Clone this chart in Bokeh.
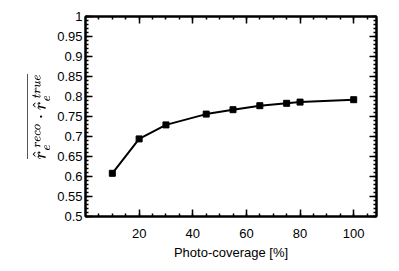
from bokeh.plotting import figure
from bokeh.models import Range1d, LinearAxis, FixedTicker, CustomJSTickFormatter
from bokeh.embed import file_html
from bokeh.resources import INLINE

coverage = [10, 20, 30, 45, 55, 65, 75, 80, 100]
dot_product = [0.608, 0.694, 0.729, 0.756, 0.767, 0.777, 0.783, 0.786, 0.792]

y_ticks = [0.5, 0.55, 0.6, 0.65, 0.7, 0.75, 0.8, 0.85, 0.9, 0.95, 1.0]
x_ticks = [20, 40, 60, 80, 100]

FONT = "Liberation Sans"

p = figure(frame_width=291, frame_height=200, output_backend="svg",
           toolbar_location=None, x_range=Range1d(0, 108.5), y_range=Range1d(0.5, 1.0),
           min_border_left=85, min_border_right=7, min_border_top=16, min_border_bottom=45)
p.xgrid.visible = False
p.ygrid.visible = False
p.outline_line_color = "black"
p.outline_line_width = 2
p.background_fill_color = "white"
p.border_fill_color = "white"

xminor = [v for v in range(5, 110, 5)]
yminor = [round(0.5 + 0.01 * i, 2) for i in range(51)]

def style(ax, labels=True):
    ax.axis_line_color = "black"
    ax.axis_line_width = 2
    ax.major_tick_in = 7
    ax.major_tick_out = 0
    ax.minor_tick_in = 3
    ax.minor_tick_out = 0
    ax.major_tick_line_width = 1.5
    ax.minor_tick_line_width = 1.5
    ax.major_tick_line_color = "black"
    ax.minor_tick_line_color = "black"
    ax.major_label_text_font = FONT
    ax.major_label_text_font_size = "13px"
    ax.major_label_text_color = "black"
    if not labels:
        ax.formatter = CustomJSTickFormatter(code="return '';")
        ax.major_label_standoff = 0

p.xaxis.ticker = FixedTicker(ticks=x_ticks, minor_ticks=xminor)
p.yaxis.ticker = FixedTicker(ticks=y_ticks, minor_ticks=yminor)
style(p.xaxis[0])
style(p.yaxis[0])
p.xaxis.major_label_standoff = 12
p.yaxis.major_label_standoff = 3
p.xaxis.axis_label = "Photo-coverage [%]"
p.xaxis.axis_label_text_font = FONT
p.xaxis.axis_label_text_font_style = "normal"
p.xaxis.axis_label_text_font_size = "13px"
p.xaxis.axis_label_text_color = "black"
p.xaxis.axis_label_standoff = 4
p.yaxis.axis_label = r"$$\overline{\hat{r}_e^{\,reco}\cdot\hat{r}_e^{\,true}}$$"
p.yaxis.axis_label_text_font_size = "15px"
p.yaxis.axis_label_text_color = "black"
p.yaxis.axis_label_standoff = 4

top = LinearAxis(ticker=FixedTicker(ticks=x_ticks, minor_ticks=xminor))
right = LinearAxis(ticker=FixedTicker(ticks=y_ticks, minor_ticks=yminor))
style(top, labels=False)
style(right, labels=False)
p.add_layout(top, "above")
p.add_layout(right, "right")

p.line(coverage, dot_product, line_color="black", line_width=2)
p.scatter(coverage, dot_product, marker="square", size=6, fill_color="black", line_color="black")

open("out.html", "w").write(file_html(p, INLINE))
